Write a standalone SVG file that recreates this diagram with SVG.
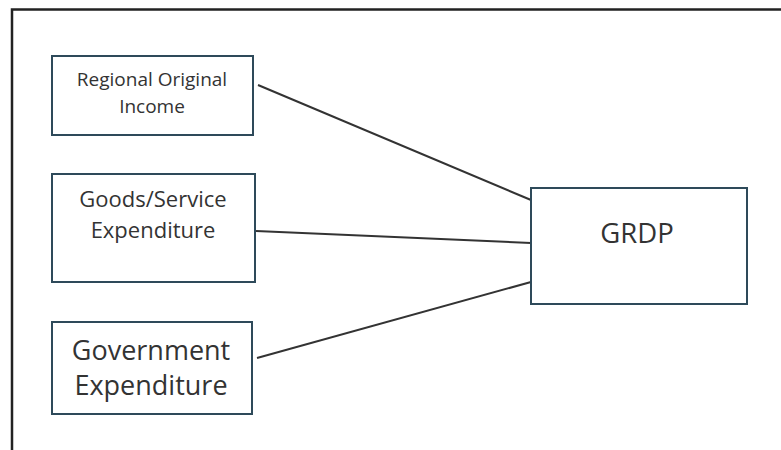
<svg xmlns="http://www.w3.org/2000/svg" width="781" height="450" viewBox="0 0 781 450">
<style>
.box{fill:#fff;stroke:#2e4a5a;stroke-width:2}
.t{font-family:"Open Sans","Liberation Sans",sans-serif;fill:#333;text-anchor:middle}
.c{stroke:#333;stroke-width:2;fill:none}
</style>
<rect width="781" height="450" fill="#fff"/>
<path d="M12 450 V9.5 H781" fill="none" stroke="#222" stroke-width="2.5"/>
<g id="connectors">
<line class="c" x1="258" y1="85" x2="531" y2="200"/>
<line class="c" x1="256" y1="231" x2="531" y2="243"/>
<line class="c" x1="257" y1="358" x2="531" y2="282"/>
</g>
<g id="n1">
<rect class="box" x="52" y="56" width="201" height="79"/>
<text class="t" x="152" y="86" font-size="19">Regional Original</text>
<text class="t" x="152" y="113" font-size="19">Income</text>
</g>
<g id="n2">
<rect class="box" x="52" y="174" width="203" height="108"/>
<text class="t" x="153" y="207" font-size="22">Goods/Service</text>
<text class="t" x="153" y="238" font-size="22">Expenditure</text>
</g>
<g id="n3">
<rect class="box" x="52" y="322" width="200" height="92"/>
<text class="t" x="151" y="360" font-size="27">Government</text>
<text class="t" x="151" y="395" font-size="27">Expenditure</text>
</g>
<g id="n4">
<rect class="box" x="531" y="188" width="216" height="116"/>
<text class="t" x="637" y="243" font-size="27.5">GRDP</text>
</g>
</svg>
